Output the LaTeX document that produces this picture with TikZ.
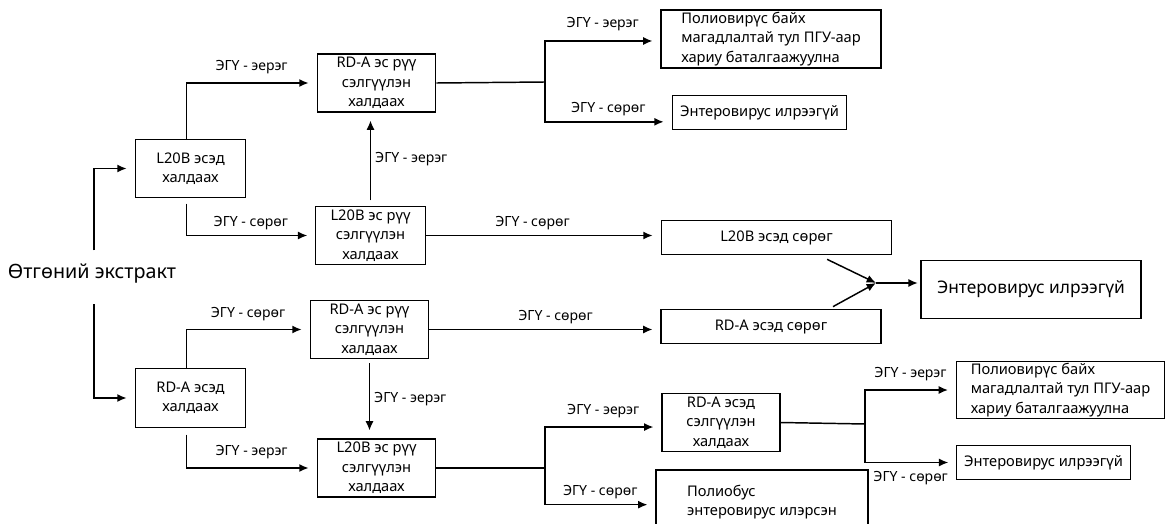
\documentclass[tikz,border=0pt]{standalone}
\usepackage{fontspec}
\setmainfont{Noto Sans}
\usetikzlibrary{positioning,arrows.meta}

\tikzset{
  box/.style={draw, line width=0.8pt, inner sep=1pt, align=center, font=\fontsize{11}{14.5}\selectfont},
  arr/.style={-{Latex[length=7pt,width=6pt]}, line width=1.1pt, shorten >=6pt},
  lbl/.style={inner sep=1pt, font=\fontsize{10.5}{12}\selectfont}
}

\begin{document}
\begin{tikzpicture}[x=0.75pt, y=-0.75pt]
  \useasboundingbox (0,0) rectangle (1166,524);

  \node[font=\fontsize{14.8}{17}\selectfont] (extract) at (92,274) {Өтгөний экстракт};

  \node[box, minimum width=83pt, minimum height=44pt] (l20b) at (190.5,168.5) {L20B эсэд\\халдаах};
  \node[box, minimum width=83pt, minimum height=44pt] (rda) at (190.5,398) {RD-A эсэд\\халдаах};

  \node[box, minimum width=89pt, minimum height=43.5pt] (l20bRda) at (376.5,83) {RD-A эс рүү\\сэлгүүлэн\\халдаах};
  \node[box, minimum width=82pt, minimum height=44pt] (l20bSub) at (370.5,235.5) {L20B эс рүү\\сэлгүүлэн\\халдаах};
  \node[box, minimum width=89pt, minimum height=44pt] (rdaSub) at (369.5,329.5) {RD-A эс рүү\\сэлгүүлэн\\халдаах};
  \node[box, minimum width=89pt, minimum height=43.5pt] (rdaL20b) at (376.5,468) {L20B эс рүү\\сэлгүүлэн\\халдаах};

  \node[box, align=left, minimum width=165pt, minimum height=43.5pt] (polio1) at (771,39) {Полиовирүс байх\\магадлалтай тул ПГУ-аар\\хариу баталгаажуулна};
  \node[box, minimum width=131pt, minimum height=26pt] (noEntero1) at (759.5,112.5) {Энтеровирус илрээгүй};

  \node[box, minimum width=173pt, minimum height=26pt] (l20bNeg) at (776.5,237.5) {L20B эсэд сөрөг};
  \node[box, minimum width=165pt, minimum height=26pt] (rdaNeg) at (771,326.5) {RD-A эсэд сөрөг};
  \node[box, minimum width=165pt, minimum height=43pt, font=\fontsize{13}{15}\selectfont] (noEntero) at (1031,289.5) {Энтеровирус илрээгүй};

  \node[box, minimum width=88.5pt, minimum height=44pt] (rdaCheck) at (721,422.5) {RD-A эсэд\\сэлгүүлэн\\халдаах};
  \node[box, align=left, minimum width=159pt, minimum height=48pt] (nonPolio) at (762,502) {Полиобус\\энтеровирус илэрсэн};

  \node[box, align=left, minimum width=156pt, minimum height=42pt] (polio2) at (1060.5,390) {Полиовирүс байх\\магадлалтай тул ПГУ-аар\\хариу баталгаажуулна};
  \node[box, minimum width=130pt, minimum height=26pt] (noEntero2) at (1043.5,462.5) {Энтеровирус илрээгүй};

  % first test on L20B
  \draw[arr, shorten <=7pt] ([xshift=1.5pt]extract.north) |- (l20b.west);
  \draw[arr] ([xshift=-3pt]l20b.north) |- node[lbl, pos=0.75, above=5pt] {ЭГҮ - эерэг} (l20bRda.west);
  \draw[arr, shorten <=4pt] ([xshift=-3pt]l20b.south) |- node[lbl, pos=0.75, above=3pt] {ЭГҮ - сөрөг} (l20bSub.west);
  \draw[arr, shorten <=4pt] (l20bSub.north) -- node[lbl, right=2pt] {ЭГҮ - эерэг} (l20bSub.north |- l20bRda.south);

  \coordinate (split1) at (545,82);
  \draw[line width=1.1pt] (l20bRda.east) -- (split1);
  \draw[arr] (split1) |- node[lbl, pos=0.75, above=6pt] {ЭГҮ - эерэг} ([yshift=-1.5pt]polio1.west);
  \draw[arr] (split1) |- node[lbl, pos=0.75, above=3pt] {ЭГҮ - сөрөг} ([yshift=-7pt]noEntero1.west);
  \draw[arr] (l20bSub.east) -- node[lbl, above=3pt, xshift=-8pt] {ЭГҮ - сөрөг} (l20bSub.east -| l20bNeg.west);

  % first test on RD-A
  \draw[arr, shorten <=12pt] ([xshift=1.5pt]extract.south) |- (rda.west);
  \draw[arr] ([xshift=-3pt]rda.north) |- node[lbl, pos=0.75, above=5pt] {ЭГҮ - сөрөг} (rdaSub.west);
  \draw[arr, shorten <=5pt] ([xshift=-3pt]rda.south) |- node[lbl, pos=0.75, above=5pt] {ЭГҮ - эерэг} (rdaL20b.west);
  \draw[arr, shorten <=3pt] (rdaSub.south) -- node[lbl, right=2pt] {ЭГҮ - эерэг} (rdaSub.south |- rdaL20b.north);
  \draw[arr] (rdaSub.east) -- node[lbl, above=3pt, xshift=8pt] {ЭГҮ - сөрөг} (rdaSub.east -| rdaNeg.west);

  % both negative
  \coordinate (join) at (876,283);
  \draw[arr, shorten >=0pt] ([xshift=38pt, yshift=-3pt]l20bNeg.south) -- (join);
  \draw[arr, shorten >=0pt] ([xshift=46.5pt, yshift=1.5pt]rdaNeg.north) -- (join);
  \draw[arr, shorten >=2pt] (join) -- (join -| noEntero.west);

  \coordinate (split2) at (545,468);
  \draw[line width=1.1pt] (rdaL20b.east) -- (split2);
  \draw[arr] (split2) |- node[lbl, pos=0.75, above=5pt] {ЭГҮ - эерэг} ([yshift=-3.4pt]rdaCheck.west);
  \draw[arr] (split2) |- node[lbl, pos=0.75, above=3pt] {ЭГҮ - сөрөг} ([yshift=-2pt]nonPolio.west);

  \coordinate (split3) at (865,424);
  \draw[line width=1.1pt] (rdaCheck.east) -- (split3);
  \draw[arr] (split3) |- node[lbl, pos=0.75, above=5pt] {ЭГҮ - эерэг} (polio2.west);
  \draw[arr] (split3) |- node[lbl, pos=0.75, below=5pt] {ЭГҮ - сөрөг} (noEntero2.west);
\end{tikzpicture}
\end{document}
